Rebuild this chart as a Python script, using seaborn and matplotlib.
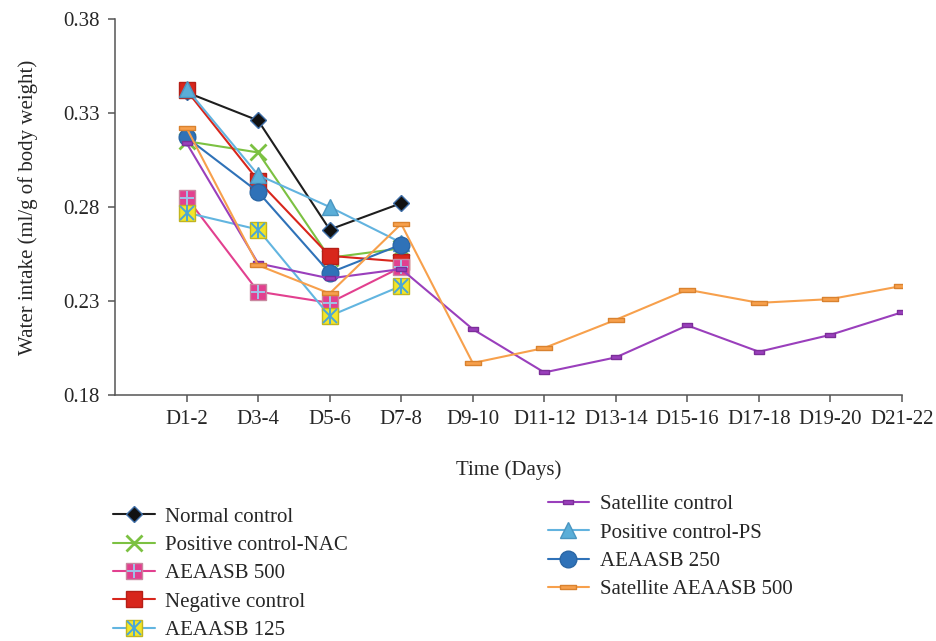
"""Water intake per body weight over time for each treatment group."""
import pandas as pd
import seaborn as sns
import matplotlib.pyplot as plt
from matplotlib.lines import Line2D

# values
days = ["D1-2", "D3-4", "D5-6", "D7-8", "D9-10", "D11-12", "D13-14",
        "D15-16", "D17-18", "D19-20", "D21-22"]
normal_control = [0.341, 0.326, 0.268, 0.282]
positive_nac = [0.315, 0.309, 0.253, 0.258]
aeaasb_500 = [0.285, 0.235, 0.229, 0.248]
negative_control = [0.342, 0.294, 0.254, 0.251]
aeaasb_125 = [0.277, 0.268, 0.222, 0.238]
satellite_control = [0.314, 0.250, 0.242, 0.247, 0.215, 0.192, 0.200,
                     0.217, 0.203, 0.212, 0.224]
positive_ps = [0.343, 0.297, 0.280, 0.261]
aeaasb_250 = [0.317, 0.288, 0.245, 0.260]
satellite_aeaasb_500 = [0.322, 0.249, 0.234, 0.271, 0.197, 0.205, 0.220,
                        0.236, 0.229, 0.231, 0.238]

sns.set_style("ticks")
plt.rcParams["font.family"] = ["Liberation Serif", "DejaVu Serif"]

fig = plt.figure(figsize=(9.36, 6.41), dpi=100)
ax = fig.add_axes([0.1229, 0.3838, 0.8408, 0.5866])

flat_bar = [(-1, -0.28), (1, -0.28), (1, 0.28), (-1, 0.28), (-1, -0.28)]
small_bar = [(-1, -0.45), (1, -0.45), (1, 0.45), (-1, 0.45), (-1, -0.45)]

# name, values, line colour, marker, size, face, edge, zorder, overlays
groups = [
    ("Normal control", normal_control, "#1e1e1e", "D", 8.5, "#111111", "#3f6fa8", 2, []),
    ("Positive control-NAC", positive_nac, "#7cc142", "x", 11, "#7cc142", "#7cc142", 3, []),
    ("AEAASB 500", aeaasb_500, "#e2408f", "s", 11.5, "#e2408f", "#c9879f", 7,
     [("+", 10, "#9fc3e8")]),
    ("Negative control", negative_control, "#d8261c", "s", 11.5, "#d8261c", "#b51f17", 4, []),
    ("AEAASB 125", aeaasb_125, "#62b5e0", "s", 11.5, "#f2e52a", "#c2b51e", 8,
     [("x", 10, "#4aa6d6"), ("|", 11, "#4aa6d6")]),
    ("Satellite control", satellite_control, "#9a3fbc", small_bar, 6.5, "#9a3fbc", "#7c2f99", 9, []),
    ("Positive control-PS", positive_ps, "#62b3df", "^", 12, "#5aaed8", "#4a95c0", 5, []),
    ("AEAASB 250", aeaasb_250, "#2f72b8", "o", 12, "#2f72b8", "#2a66a5", 6, []),
    ("Satellite AEAASB 500", satellite_aeaasb_500, "#f7a04c", flat_bar, 11.5, "#f7a04c", "#d9822f", 10, []),
]

handles = []
for name, vals, color, marker, ms, face, edge, z, extras in groups:
    x = days[:len(vals)]
    mew = 2 if marker == "x" else 1
    sns.lineplot(x=x, y=vals, color=color, marker=marker, markersize=ms,
                 markerfacecolor=face, markeredgecolor=edge, markeredgewidth=mew,
                 linewidth=1.5, sort=False, zorder=z, ax=ax, legend=False)
    h = [Line2D([], [], color=color, marker=marker, markersize=ms, linewidth=1.5,
                markerfacecolor=face, markeredgecolor=edge, markeredgewidth=mew)]
    for m2, ms2, c2 in extras:
        sns.lineplot(x=x, y=vals, color=c2, marker=m2, markersize=ms2, linestyle="",
                     markeredgecolor=c2, markeredgewidth=1.4, sort=False,
                     zorder=z + 0.5, ax=ax, legend=False)
        h.append(Line2D([], [], linestyle="", marker=m2, markersize=ms2,
                        markeredgecolor=c2, markeredgewidth=1.4))
    handles.append(tuple(h) if len(h) > 1 else h[0])

names = [g[0] for g in groups]

ax.set_xlim(-1, 10)
ax.set_ylim(0.18, 0.38)
ax.set_yticks([0.18, 0.23, 0.28, 0.33, 0.38])
ax.set_yticklabels(["0.18", "0.23", "0.28", "0.33", "0.38"])
ax.tick_params(labelsize=15, length=5, width=1.1, color="#555555", pad=6)
for side in ["left", "bottom"]:
    ax.spines[side].set_color("#555555")
    ax.spines[side].set_linewidth(1.1)
sns.despine(ax=ax)

ax.set_xlabel("Time (Days)", fontsize=15, labelpad=22)
ax.set_ylabel("Water intake (ml/g of body weight)", fontsize=15, labelpad=18)

# two-column legend below the plot
leg_kw = dict(frameon=False, fontsize=15, handlelength=2.0, handletextpad=0.5,
              labelspacing=0.42, borderpad=0, borderaxespad=0, loc="upper left")
fig.legend(handles[:5], names[:5], bbox_to_anchor=(0.121, 0.209), **leg_kw)
fig.legend(handles[5:], names[5:], bbox_to_anchor=(0.585, 0.228), **leg_kw)

plt.savefig("out.png", dpi=100)
